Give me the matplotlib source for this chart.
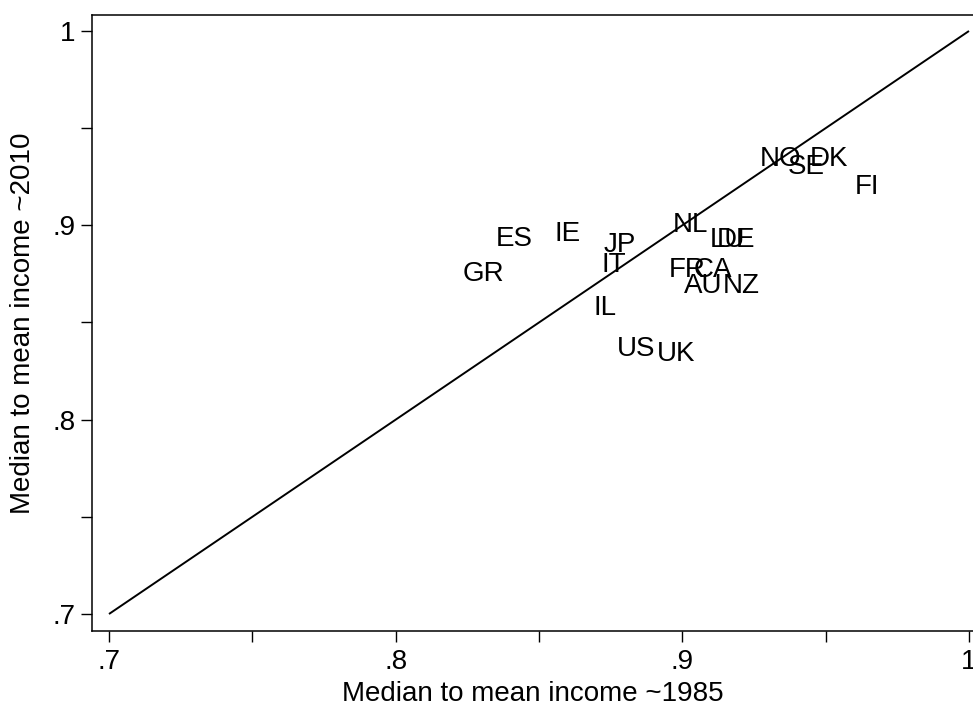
import matplotlib
matplotlib.use("Agg")
import matplotlib.pyplot as plt
from matplotlib.ticker import FixedLocator

plt.rcParams['font.family'] = ['Liberation Sans', 'DejaVu Sans']

countries = ["GR", "ES", "IE", "JP", "IT", "IL", "US", "UK", "NL", "LU", "DE",
             "FR", "CA", "AU", "NZ", "NO", "DK", "SE", "FI"]
ratio_1985 = [0.8305, 0.8413, 0.8601, 0.8783, 0.8762, 0.8730, 0.8838, 0.8978,
              0.9030, 0.9159, 0.9187, 0.9016, 0.9107, 0.9072, 0.9205, 0.9344,
              0.9512, 0.9431, 0.9644]
ratio_2010 = [0.8765, 0.8945, 0.8971, 0.8914, 0.8811, 0.8590, 0.8379, 0.8353,
              0.9017, 0.8940, 0.8940, 0.8786, 0.8786, 0.8703, 0.8703, 0.9357,
              0.9357, 0.9316, 0.9213]
diag = [0.7, 1.0]
major_ticks = [0.7, 0.8, 0.9, 1.0]
major_labels = [".7", ".8", ".9", "1"]
minor_ticks = [0.75, 0.85, 0.95]

fig = plt.figure(figsize=(9.73, 7.02), dpi=100)
ax = fig.add_axes([92/973, 71/702, 1 - 92/973, (631-15)/702])

ax.plot(diag, diag, color="black", lw=1.4, solid_capstyle="butt")
for c, x, y in zip(countries, ratio_1985, ratio_2010):
    ax.text(x, y, c, ha="center", va="center_baseline", fontsize=20, color="black")

ax.set_xlim(0.69407, 1.0014)
ax.set_ylim(0.69125, 1.00823)

ax.xaxis.set_major_locator(FixedLocator(major_ticks))
ax.yaxis.set_major_locator(FixedLocator(major_ticks))
ax.set_xticklabels(major_labels)
ax.set_yticklabels(major_labels)
ax.xaxis.set_minor_locator(FixedLocator(minor_ticks))
ax.yaxis.set_minor_locator(FixedLocator(minor_ticks))
ax.tick_params(which="both", length=8, width=1.0, color="black", labelsize=20)
ax.tick_params(axis="x", which="major", pad=5)
ax.tick_params(axis="y", which="major", pad=4)

for s in ["left", "bottom", "top"]:
    ax.spines[s].set_linewidth(1.1)
    ax.spines[s].set_color("black")
ax.spines["right"].set_visible(False)

ax.set_xlabel("Median to mean income ~1985", fontsize=20, labelpad=4)
ax.set_ylabel("Median to mean income ~2010", fontsize=20, labelpad=12)

fig.savefig("out.png", dpi=100)
